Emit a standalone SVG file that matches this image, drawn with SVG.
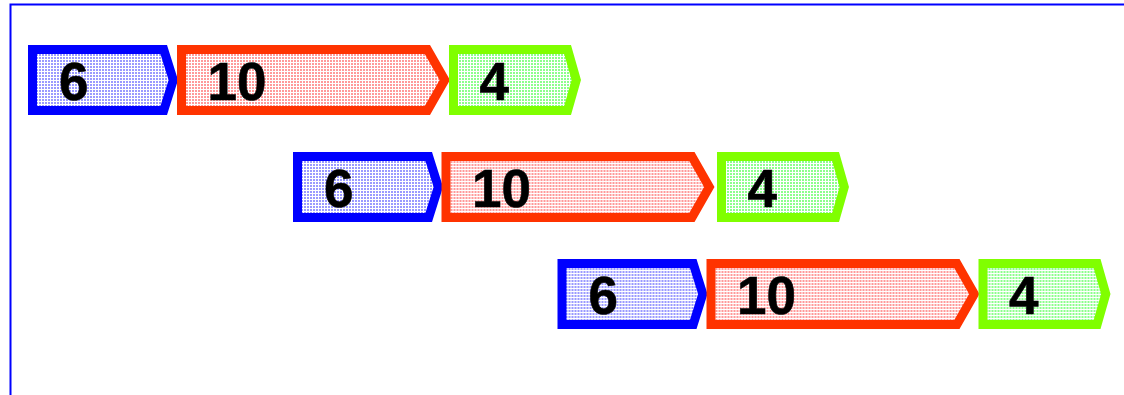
<svg xmlns="http://www.w3.org/2000/svg" width="1124" height="395" viewBox="0 0 1124 395">
<defs>
<pattern id="pb" patternUnits="userSpaceOnUse" width="3" height="3"><rect width="3" height="3" fill="#ffffff"/><rect x="0" y="0" width="2" height="2" fill="#9a9aff"/></pattern>
<pattern id="pr" patternUnits="userSpaceOnUse" width="3" height="3"><rect width="3" height="3" fill="#ffffff"/><rect x="0" y="0" width="2" height="2" fill="#ff9a9a"/></pattern>
<pattern id="pg" patternUnits="userSpaceOnUse" width="3" height="3"><rect width="3" height="3" fill="#ffffff"/><rect x="0" y="0" width="2" height="2" fill="#8cff8c"/></pattern>
</defs>
<style>
.sh{stroke-width:9;stroke-linejoin:miter;stroke-miterlimit:10}
.b{fill:url(#pb);stroke:#0000ff}
.r{fill:url(#pr);stroke:#ff3300}
.g{fill:url(#pg);stroke:#80ff00}
.t{font-family:"Liberation Sans",Arial,sans-serif;font-weight:bold;font-size:53px;fill:#000000;stroke:#000000;stroke-width:0.6}
</style>
<rect width="1124" height="395" fill="#ffffff"/>
<path d="M10.5 395 V4.5 H1124" fill="none" stroke="#0000ff" stroke-width="2"/>
<g id="connectors"></g>
<g id="row1-blue"><polygon class="sh b" points="32.5,49.5 163.7,49.5 173.3,80 163.7,110.5 32.5,110.5"/><text class="t" x="59" y="100">6</text></g>
<g id="row1-red"><polygon class="sh r" points="181.5,49.5 427.4,49.5 444.8,80 427.4,110.5 181.5,110.5"/><text class="t" x="207.5" y="100">10</text></g>
<g id="row1-green"><polygon class="sh g" points="453.5,49.5 567.6,49.5 576.3,80 567.6,110.5 453.5,110.5"/><text class="t" x="479.5" y="100">4</text></g>
<g id="row2-blue" transform="translate(265,107)"><polygon class="sh b" points="32.5,49.5 163.7,49.5 173.3,80 163.7,110.5 32.5,110.5"/><text class="t" x="59" y="100">6</text></g>
<g id="row2-red" transform="translate(264.5,107)"><polygon class="sh r" points="181.5,49.5 427.4,49.5 444.8,80 427.4,110.5 181.5,110.5"/><text class="t" x="207.5" y="100">10</text></g>
<g id="row2-green" transform="translate(268,107)"><polygon class="sh g" points="453.5,49.5 567.6,49.5 576.3,80 567.6,110.5 453.5,110.5"/><text class="t" x="479.5" y="100">4</text></g>
<g id="row3-blue" transform="translate(529.5,214)"><polygon class="sh b" points="32.5,49.5 163.7,49.5 173.3,80 163.7,110.5 32.5,110.5"/><text class="t" x="59" y="100">6</text></g>
<g id="row3-red" transform="translate(529.5,214)"><polygon class="sh r" points="181.5,49.5 427.4,49.5 444.8,80 427.4,110.5 181.5,110.5"/><text class="t" x="207.5" y="100">10</text></g>
<g id="row3-green" transform="translate(529.5,214)"><polygon class="sh g" points="453.5,49.5 567.6,49.5 576.3,80 567.6,110.5 453.5,110.5"/><text class="t" x="479.5" y="100">4</text></g>
</svg>
